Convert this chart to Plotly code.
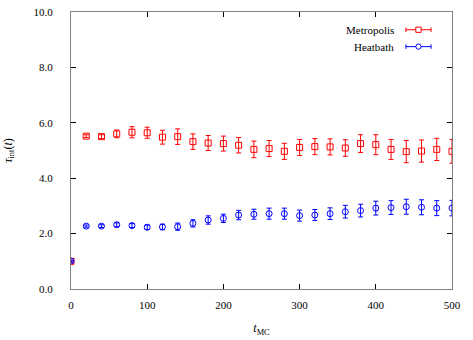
import plotly.graph_objects as go

# Monte Carlo time (sweeps)
t_mc = [0, 20, 40, 60, 80, 100, 120, 140, 160, 180, 200, 220, 240, 260,
        280, 300, 320, 340, 360, 380, 400, 420, 440, 460, 480, 500]

# integrated autocorrelation time, Metropolis
tau_metro = [1.0, 5.52, 5.50, 5.60, 5.66, 5.64, 5.48, 5.50, 5.32, 5.27, 5.25,
             5.19, 5.04, 5.07, 4.97, 5.11, 5.14, 5.13, 5.09, 5.25, 5.21, 5.04,
             4.96, 4.98, 5.04, 4.97]
err_metro = [0.04, 0.05, 0.07, 0.14, 0.2, 0.2, 0.25, 0.28, 0.28, 0.27, 0.27,
             0.28, 0.3, 0.29, 0.29, 0.29, 0.29, 0.29, 0.3, 0.32, 0.36, 0.36,
             0.4, 0.4, 0.4, 0.43]

# integrated autocorrelation time, Heatbath
tau_heat = [1.01, 2.27, 2.27, 2.32, 2.29, 2.23, 2.24, 2.25, 2.37, 2.49, 2.55,
            2.67, 2.70, 2.72, 2.72, 2.65, 2.67, 2.72, 2.79, 2.83, 2.92, 2.94,
            2.97, 2.95, 2.92, 2.92]
err_heat = [0.03, 0.04, 0.05, 0.07, 0.07, 0.08, 0.1, 0.13, 0.13, 0.15, 0.15,
            0.17, 0.18, 0.2, 0.2, 0.2, 0.2, 0.21, 0.23, 0.23, 0.25, 0.25,
            0.27, 0.27, 0.27, 0.28]

y_ticks = [0, 2, 4, 6, 8, 10]
y_tick_text = ["0.0", "2.0", "4.0", "6.0", "8.0", "10.0"]
x_ticks = [0, 100, 200, 300, 400, 500]

RED = "#ff0000"
BLUE = "#0000ff"
FONT = "Liberation Serif"

fig = go.Figure()
fig.add_trace(go.Scatter(
    x=t_mc, y=tau_metro, mode="markers", name="Metropolis",
    marker=dict(symbol="square-open", size=6, color=RED, line=dict(width=1)),
    error_y=dict(type="data", array=err_metro, color=RED, thickness=1, width=2.5),
))
fig.add_trace(go.Scatter(
    x=t_mc, y=tau_heat, mode="markers", name="Heatbath",
    marker=dict(symbol="circle-open", size=6, color=BLUE, line=dict(width=1)),
    error_y=dict(type="data", array=err_heat, color=BLUE, thickness=1, width=2.5),
))

# gnuplot-style key: text on the left, sample on the right
key = [("Metropolis", RED, "rect", 0.936), ("Heatbath", BLUE, "circle", 0.875)]
for label, col, shp, ky in key:
    fig.add_annotation(x=0.853, y=ky, xref="paper", yref="paper", text=label,
                       showarrow=False, xanchor="right", yanchor="middle",
                       font=dict(family=FONT, size=11, color="black"))
    fig.add_shape(type="line", xref="paper", yref="paper", x0=0.879, x1=0.945,
                  y0=ky, y1=ky, line=dict(color=col, width=1))
    for xc in (0.879, 0.945):
        fig.add_shape(type="line", xref="paper", yref="paper", x0=xc, x1=xc,
                      y0=ky - 0.008, y1=ky + 0.008, line=dict(color=col, width=1))
    fig.add_shape(type=shp, xref="paper", yref="paper", x0=0.905, x1=0.919,
                  y0=ky - 0.0095, y1=ky + 0.0095, fillcolor="white",
                  line=dict(color=col, width=1))

axis_common = dict(showgrid=False, zeroline=False, showline=True, mirror="ticks",
                   linecolor="#808080", linewidth=1, ticks="inside", ticklen=5,
                   tickcolor="black", ticklabeloverflow="allow", automargin=False,
                   tickfont=dict(family=FONT, size=11, color="black"))

fig.update_xaxes(range=[0, 500], tickvals=x_ticks, ticklabelstandoff=6,
                 title=dict(text="<i>t</i><sub>MC</sub>", standoff=13,
                            font=dict(family=FONT, size=12, color="black")),
                 **axis_common)
fig.update_yaxes(range=[0, 10], tickvals=y_ticks, ticktext=y_tick_text,
                 ticklabelstandoff=15,
                 title=dict(text="<i>τ</i><sub>int</sub>(<i>t</i>)", standoff=18,
                            font=dict(family=FONT, size=12, color="black")),
                 **axis_common)

fig.update_layout(
    width=473, height=340,
    margin=dict(l=71, r=21, t=12, b=51),
    plot_bgcolor="white", paper_bgcolor="white",
    showlegend=False,
    font=dict(family=FONT, color="black"),
)

# drop the default 8px body margin so the figure fills the window
fig.write_html("out.html", config={"displayModeBar": False},
               post_script="document.body.style.margin='0px';")
